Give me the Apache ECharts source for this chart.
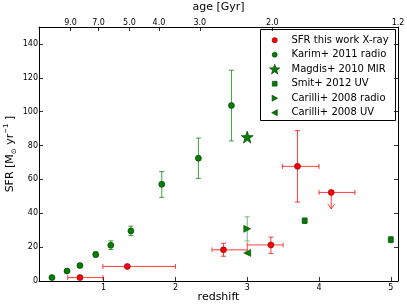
<!DOCTYPE html>
<html>
<head>
<meta charset="utf-8">
<script src="https://cdn.jsdelivr.net/npm/echarts@6/dist/echarts.min.js"></script>
<style>html,body{margin:0;padding:0;background:#fff}#c{width:407px;height:307px}</style>
</head>
<body>
<div id="c"></div>
<script>
// ---- data ----
const seriesNames = ['SFR this work X-ray','Karim+ 2011 radio','Magdis+ 2010 MIR','Smit+ 2012 UV','Carilli+ 2008 radio','Carilli+ 2008 UV'];

const xrayZ      = [0.67, 1.33, 2.67, 3.33, 3.70, 4.17];
const xraySFR    = [2.0, 8.6, 18.4, 21.3, 67.7, 52.3];
const xrayZlo    = [0.50, 0.99, 2.51, 3.00, 3.49, 4.00];
const xrayZhi    = [0.99, 2.00, 3.00, 3.50, 4.00, 4.50];
const xraySFRlo  = [null, null, 14.6, 16.3, 46.6, null];
const xraySFRhi  = [null, null, 22.3, 25.9, 88.8, null];
const xrayLimitTo= [null, null, null, null, null, 42.6];

const karimZ     = [0.28, 0.49, 0.67, 0.89, 1.10, 1.38, 1.81, 2.32, 2.78];
const karimSFR   = [2.0, 5.9, 9.1, 15.6, 21.1, 29.6, 57.1, 72.5, 103.6];
const karimSFRlo = [null, null, null, 14.2, 18.6, 26.8, 49.4, 60.6, 82.7];
const karimSFRhi = [null, null, null, 17.2, 23.7, 32.4, 64.6, 84.4, 124.5];

const magdisZ    = [3.0];
const magdisSFR  = [85.0];

const smitZ      = [3.80, 5.00];
const smitSFR    = [35.6, 24.4];
const smitSFRlo  = [34.0, 22.6];
const smitSFRhi  = [37.2, 26.2];

const carRadioZ     = [3.0];
const carRadioSFR   = [30.8];
const carRadioSFRlo = [23.6];
const carRadioSFRhi = [37.9];

const carUVZ     = [3.0];
const carUVSFR   = [16.6];

const xTicks     = [1, 2, 3, 4, 5];
const yTicks     = [0, 20, 40, 60, 80, 100, 120, 140];
const ageLabels  = ['9.0', '7.0', '5.0', '4.0', '3.0', '2.0', '1.2'];
const ageZ       = [0.54, 0.93, 1.36, 1.77, 2.34, 3.35, 5.1];

// ---- helpers ----
const RED = '#ff0000', GREEN = '#008000';
const RED_EDGE = '#7a0000', GREEN_EDGE = '#003000';
const FONT = 'DejaVu Sans';

function rows(x, y, xl, xh, yl, yh, lim) {
  return x.map((v, i) => [v, y[i],
    xl ? xl[i] : null, xh ? xh[i] : null,
    yl ? yl[i] : null, yh ? yh[i] : null,
    lim ? lim[i] : null]);
}
function ok(v) { return v !== null && v !== undefined && !isNaN(v); }

function errRender(color, alpha) {
  return function (params, api) {
    const x = api.value(0), y = api.value(1);
    const xl = api.value(2), xh = api.value(3), yl = api.value(4), yh = api.value(5), lim = api.value(6);
    const kids = [];
    const st = { stroke: color, lineWidth: 1, opacity: alpha, fill: null };
    const cap = 2.5;
    const L = (a, b) => kids.push({ type: 'line', shape: { x1: a[0], y1: a[1], x2: b[0], y2: b[1] }, style: st });
    if (ok(xl) && ok(xh)) {
      const a = api.coord([xl, y]), b = api.coord([xh, y]);
      L(a, b);
      L([a[0], a[1] - cap], [a[0], a[1] + cap]);
      L([b[0], b[1] - cap], [b[0], b[1] + cap]);
    }
    if (ok(yl) && ok(yh)) {
      const a = api.coord([x, yl]), b = api.coord([x, yh]);
      L(a, b);
      L([a[0] - cap, a[1]], [a[0] + cap, a[1]]);
      L([b[0] - cap, b[1]], [b[0] + cap, b[1]]);
    }
    if (ok(lim)) {
      const a = api.coord([x, y]), b = api.coord([x, lim]);
      L(a, b);
      L([b[0] - 3.5, b[1] - 5], b);
      L([b[0] + 3.5, b[1] - 5], b);
    }
    return { type: 'group', children: kids };
  };
}

function starPts(cx, cy, R, r) {
  const p = [];
  for (let i = 0; i < 10; i++) {
    const ang = -Math.PI / 2 + i * Math.PI / 5;
    const rad = i % 2 === 0 ? R : r;
    p.push([cx + rad * Math.cos(ang), cy + rad * Math.sin(ang)]);
  }
  return p;
}
function starPath(cx, cy, R, r) {
  return starPts(cx, cy, R, r).map((q, i) => (i ? 'L' : 'M') + q[0].toFixed(2) + ',' + q[1].toFixed(2)).join('') + 'Z';
}
const symStar  = 'path://' + starPath(50, 50, 50, 20);
const symRight = 'path://M0,0L10,5L0,10Z';
const symLeft  = 'path://M10,0L0,5L10,10Z';

// ---- legend drawn as graphic (box, markers, real text) ----
const LG = { x: 260.5, y: 29.5, w: 135, h: 91, mx: 274.7, tx: 291.5, y0: 40.2, dy: 14.5 };
function legendMarker(i, cx, cy) {
  const g = (fill, edge) => ({ fill: fill, stroke: edge, lineWidth: 0.6 });
  switch (i) {
    case 0: return { type: 'circle', shape: { cx: cx, cy: cy, r: 2.6 }, style: g(RED, RED_EDGE) };
    case 1: return { type: 'circle', shape: { cx: cx, cy: cy, r: 2.5 }, style: g(GREEN, GREEN_EDGE) };
    case 2: return { type: 'polygon', shape: { points: starPts(cx, cy + 0.4, 5.4, 2.2) }, style: g(GREEN, GREEN_EDGE) };
    case 3: return { type: 'rect', shape: { x: cx - 2.4, y: cy - 2.4, width: 4.8, height: 4.8 }, style: g(GREEN, GREEN_EDGE) };
    case 4: return { type: 'polygon', shape: { points: [[cx - 2.6, cy - 3], [cx + 3, cy], [cx - 2.6, cy + 3]] }, style: g(GREEN, GREEN_EDGE) };
    default: return { type: 'polygon', shape: { points: [[cx + 2.6, cy - 3], [cx - 3, cy], [cx + 2.6, cy + 3]] }, style: g(GREEN, GREEN_EDGE) };
  }
}
const legendChildren = [
  { type: 'rect', shape: { x: LG.x, y: LG.y, width: LG.w, height: LG.h }, style: { fill: '#fff', stroke: '#000', lineWidth: 1 } }
];
seriesNames.forEach((name, i) => {
  const cy = LG.y0 + i * LG.dy;
  legendChildren.push(legendMarker(i, LG.mx, cy));
  legendChildren.push({ type: 'text', x: LG.tx, y: cy,
    style: { text: name, font: '10px "DejaVu Sans"', fill: '#000', verticalAlign: 'middle', textVerticalAlign: 'middle', align: 'left' } });
});

const chart = echarts.init(document.getElementById('c'), null, { renderer: 'canvas' });

const axisLine = { show: true, onZero: false, lineStyle: { color: '#000', width: 1 } };
const tickStyle = { show: true, inside: true, length: 4, lineStyle: { color: '#000', width: 0.8 } };

chart.setOption({
  animation: false,
  backgroundColor: '#fff',
  textStyle: { fontFamily: FONT },
  grid: { left: 39, right: 9, top: 27, bottom: 26, containLabel: false, outerBoundsMode: 'none' },
  xAxis: [
    {
      type: 'value', min: 0.1, max: 5.1, position: 'bottom',
      name: 'redshift', nameLocation: 'middle', nameGap: 11, nameMoveOverlap: false,
      nameTextStyle: { fontFamily: FONT, fontSize: 11, color: '#000' },
      axisLine: axisLine,
      axisTick: Object.assign({ customValues: xTicks }, tickStyle),
      axisLabel: { customValues: xTicks, fontFamily: FONT, fontSize: 8, color: '#000', margin: 3 },
      splitLine: { show: false }
    },
    {
      type: 'value', min: 0.1, max: 5.1, position: 'top',
      name: 'age [Gyr]', nameLocation: 'middle', nameGap: 14, nameMoveOverlap: false,
      nameTextStyle: { fontFamily: FONT, fontSize: 11, color: '#000' },
      axisLine: axisLine,
      axisTick: Object.assign({ customValues: ageZ }, tickStyle),
      axisLabel: {
        customValues: ageZ, fontFamily: FONT, fontSize: 8, color: '#000', margin: 0,
        formatter: function (v) {
          let best = 0;
          for (let i = 0; i < ageZ.length; i++) if (Math.abs(ageZ[i] - v) < Math.abs(ageZ[best] - v)) best = i;
          return ageLabels[best];
        }
      },
      splitLine: { show: false }
    }
  ],
  yAxis: [
    {
      type: 'value', min: 0, max: 150, position: 'left',
      name: '{a|SFR [M}{s|⊙}{a| yr}{p|−1}{a| ]}', nameLocation: 'middle', nameGap: 21, nameRotate: 90,
      nameMoveOverlap: false,
      nameTextStyle: {
        fontFamily: FONT, fontSize: 11, color: '#000',
        rich: {
          a: { fontFamily: FONT, fontSize: 11, color: '#000', lineHeight: 15 },
          s: { fontFamily: FONT, fontSize: 7, color: '#000', verticalAlign: 'bottom', lineHeight: 15 },
          p: { fontFamily: FONT, fontSize: 7, color: '#000', verticalAlign: 'top', lineHeight: 15 }
        }
      },
      axisLine: axisLine,
      axisTick: Object.assign({ customValues: yTicks }, tickStyle),
      axisLabel: { customValues: yTicks, fontFamily: FONT, fontSize: 8, color: '#000', margin: 1 },
      splitLine: { show: false }
    },
    {
      type: 'value', min: 0, max: 150, position: 'right',
      axisLine: axisLine,
      axisTick: Object.assign({ customValues: yTicks }, tickStyle),
      axisLabel: { show: false },
      splitLine: { show: false }
    }
  ],
  graphic: { elements: [{ type: 'group', z: 100, children: legendChildren }] },
  series: [
    { type: 'custom', name: 'xray-err', renderItem: errRender(RED, 0.75), z: 1, silent: true,
      encode: { x: 0, y: 1 }, data: rows(xrayZ, xraySFR, xrayZlo, xrayZhi, xraySFRlo, xraySFRhi, xrayLimitTo) },
    { type: 'custom', name: 'karim-err', renderItem: errRender(GREEN, 0.75), z: 1, silent: true,
      encode: { x: 0, y: 1 }, data: rows(karimZ, karimSFR, null, null, karimSFRlo, karimSFRhi) },
    { type: 'custom', name: 'smit-err', renderItem: errRender(GREEN, 0.75), z: 1, silent: true,
      encode: { x: 0, y: 1 }, data: rows(smitZ, smitSFR, null, null, smitSFRlo, smitSFRhi) },
    { type: 'custom', name: 'carilli-err', renderItem: errRender(GREEN, 0.55), z: 1, silent: true,
      encode: { x: 0, y: 1 }, data: rows(carRadioZ, carRadioSFR, null, null, carRadioSFRlo, carRadioSFRhi) },

    { type: 'scatter', name: seriesNames[0], symbol: 'circle', symbolSize: 6, z: 3,
      itemStyle: { color: RED, borderColor: RED_EDGE, borderWidth: 0.6, opacity: 1 },
      data: xrayZ.map((z, i) => [z, xraySFR[i]]) },
    { type: 'scatter', name: seriesNames[1], symbol: 'circle', symbolSize: 6, z: 3,
      itemStyle: { color: GREEN, borderColor: GREEN_EDGE, borderWidth: 0.6, opacity: 1 },
      data: karimZ.map((z, i) => [z, karimSFR[i]]) },
    { type: 'scatter', name: seriesNames[2], symbol: symStar, symbolSize: 12, z: 3,
      itemStyle: { color: GREEN, borderColor: GREEN_EDGE, borderWidth: 0.6, opacity: 1 },
      data: magdisZ.map((z, i) => [z, magdisSFR[i]]) },
    { type: 'scatter', name: seriesNames[3], symbol: 'rect', symbolSize: 5, z: 3,
      itemStyle: { color: GREEN, borderColor: GREEN_EDGE, borderWidth: 0.6, opacity: 1 },
      data: smitZ.map((z, i) => [z, smitSFR[i]]) },
    { type: 'scatter', name: seriesNames[4], symbol: symRight, symbolSize: 7, z: 3,
      itemStyle: { color: GREEN, borderColor: GREEN_EDGE, borderWidth: 0.5, opacity: 1 },
      data: carRadioZ.map((z, i) => [z, carRadioSFR[i]]) },
    { type: 'scatter', name: seriesNames[5], symbol: symLeft, symbolSize: 7, z: 3,
      itemStyle: { color: GREEN, borderColor: GREEN_EDGE, borderWidth: 0.5, opacity: 1 },
      data: carUVZ.map((z, i) => [z, carUVSFR[i]]) }
  ]
});
</script>
</body>
</html>
